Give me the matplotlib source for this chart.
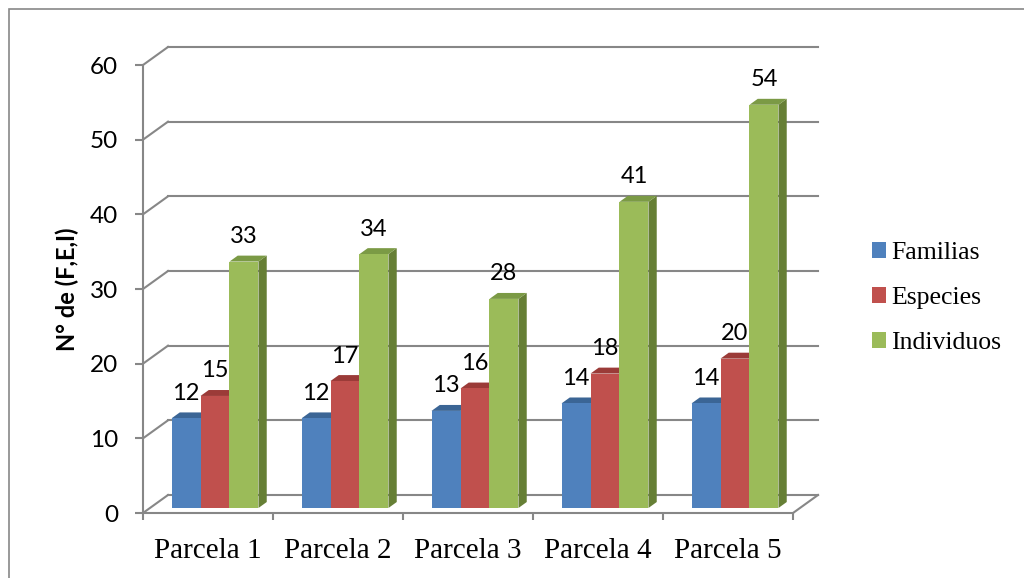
import matplotlib.pyplot as plt
from matplotlib.patches import Polygon, Rectangle

categories = ['Parcela 1', 'Parcela 2', 'Parcela 3', 'Parcela 4', 'Parcela 5']
familias = [12, 12, 13, 14, 14]
especies = [15, 17, 16, 18, 20]
individuos = [33, 34, 28, 41, 54]
series_names = ['Familias', 'Especies', 'Individuos']
yticks = [0, 10, 20, 30, 40, 50, 60]

# front, top, side colours (Excel 2007 style)
front_cols = ['#4F81BD', '#C0504D', '#9BBB59']
top_cols = ['#3B6595', '#9B3B38', '#7B9A45']
side_cols = ['#32557F', '#833230', '#667F35']
grid_col = '#878787'

fig = plt.figure(figsize=(10.24, 5.78), dpi=100)
ax = fig.add_axes([143 / 1024, 65 / 578, 650 / 1024, 448 / 578])
ax.set_xlim(-0.5, 4.5)
ax.set_ylim(0, 60)

# depth of the box (in data units) and where the bars sit inside it
DX, DY = 25 / 130, 18 / 7.467
f0, f1 = 0.28, 0.61
w = 0.223

# walls
for v in yticks:
    ax.plot([-0.5, -0.5 + DX], [v, v + DY], color=grid_col, lw=1.5, clip_on=False, zorder=1)
    ax.plot([-0.5 + DX, 4.5 + DX], [v + DY, v + DY], color=grid_col, lw=1.5, clip_on=False, zorder=1)
ax.plot([4.5, 4.5 + DX], [0, DY], color=grid_col, lw=1.5, clip_on=False, zorder=1)

# bars
data = [familias, especies, individuos]
ox, oy = f0 * DX, f0 * DY
ddx, ddy = (f1 - f0) * DX, (f1 - f0) * DY
for i in range(len(categories)):
    for j, vals in enumerate(data):
        v = vals[i]
        xl = i - 1.5 * w + j * w + ox
        t = v + oy
        side = Polygon([(xl + w, oy), (xl + w, t), (xl + w + ddx, t + ddy), (xl + w + ddx, oy + ddy)],
                       closed=True, facecolor=side_cols[j], edgecolor='none', clip_on=False, zorder=3 + j)
        top = Polygon([(xl, t), (xl + w, t), (xl + w + ddx, t + ddy), (xl + ddx, t + ddy)],
                      closed=True, facecolor=top_cols[j], edgecolor='none', clip_on=False, zorder=3 + j)
        ax.add_patch(side)
        ax.add_patch(top)
        ax.bar(xl, v, width=w, bottom=oy, align='edge', color=front_cols[j],
               label=series_names[j] if i == 0 else None, zorder=3 + j, clip_on=False)
        ax.annotate(str(v), (xl + w / 2, t), xytext=(0, 18), textcoords='offset points',
                    ha='center', va='center', fontsize=17, family='Lato', zorder=10)

# front axes
for s in ['top', 'right']:
    ax.spines[s].set_visible(False)
for s in ['left', 'bottom']:
    ax.spines[s].set_color(grid_col)
    ax.spines[s].set_linewidth(1.5)
ax.set_yticks(yticks)
ax.set_yticklabels([str(v) for v in yticks], fontsize=17.5, family='Lato')
ax.tick_params(axis='y', length=6, width=1.5, color=grid_col, pad=12)
ax.set_xticks([-0.5, 0.5, 1.5, 2.5, 3.5, 4.5])
ax.set_xticklabels([])
ax.tick_params(axis='x', which='major', length=5, width=1.5, color=grid_col, direction='out')
ax.set_xticks(range(len(categories)), minor=True)
ax.set_xticklabels(categories, minor=True, fontsize=21, family='Liberation Serif')
ax.tick_params(axis='x', which='minor', length=0, pad=18)
ax.set_facecolor('none')
ax.set_ylabel('N° de (F,E,I)', fontsize=17, fontweight='bold', family='Lato', labelpad=8)

fig.legend(loc='center left', bbox_to_anchor=(849 / 1024, 1 - 298 / 578), frameon=False,
           prop={'family': 'Liberation Serif', 'size': 18.5}, handlelength=0.55, handleheight=0.55,
           handletextpad=0.2, labelspacing=0.9)

# outer chart border
fig.patches.append(Rectangle((9 / 1024, -0.01), 1.1, 1 - 9 / 578 + 0.01, transform=fig.transFigure,
                             fill=False, edgecolor='#888888', lw=1.2))

fig.savefig('out.png', dpi=100)
